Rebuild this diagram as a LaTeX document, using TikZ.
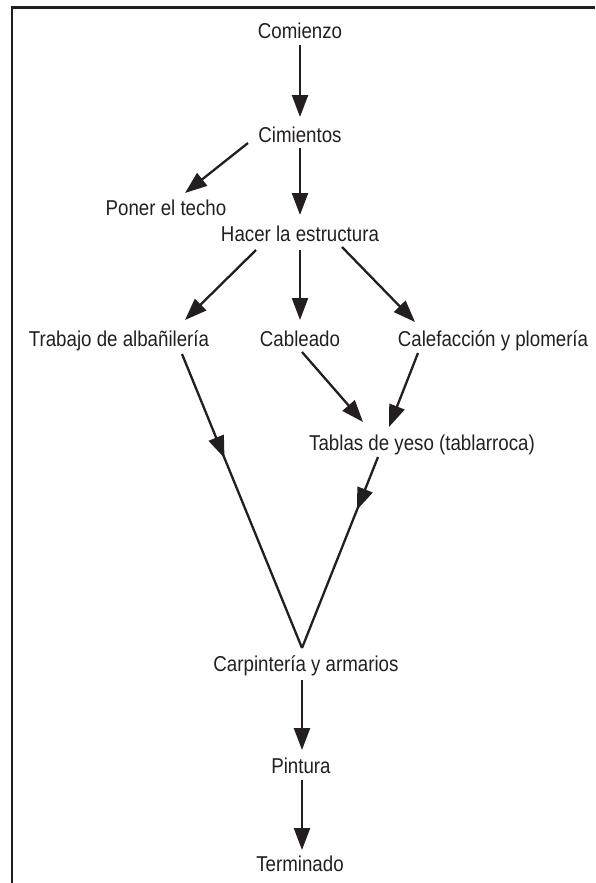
\documentclass[tikz,border=0pt]{standalone}
\usepackage{fontspec}
\setmainfont[FakeStretch=0.87]{Liberation Sans}
\usetikzlibrary{arrows.meta, decorations.markings}
\definecolor{ink}{RGB}{35, 31, 32}

\begin{document}
\begin{tikzpicture}[
  x=1pt, y=1pt,
  task/.style={anchor=base, inner sep=0pt, text=ink, font=\fontsize{21.5}{25}\selectfont},
  arrow/.style={-{Triangle[length=22pt, width=16pt]}, line width=2.3pt, ink},
  midarrow/.style={line width=2.3pt, ink, postaction={decorate},
    decoration={markings, mark=at position #1 with {\arrow{Triangle[length=22pt, width=16pt]}}}}
]
  \useasboundingbox (0, 0) rectangle (595, -883);
  \draw[line width=2.4pt, ink] (12, -883) -- (12, -7.5) -- (595, -7.5);

  \node[task] (start) at (300, -39) {Comienzo};
  \node[task] (found) at (300, -142) {Cimientos};
  \node[task] (roof) at (166, -215) {Poner el techo};
  \node[task] (frame) at (300, -241) {Hacer la estructura};
  \node[task] (mason) at (119, -346) {Trabajo de albañilería};
  \node[task] (wire) at (300, -346) {Cableado};
  \node[task] (heat) at (493, -346) {Calefacción y plomería};
  \node[task] (drywall) at (422, -450) {Tablas de yeso (tablarroca)};
  \node[task] (carp) at (306, -671) {Carpintería y armarios};
  \node[task] (paint) at (301, -773) {Pintura};
  \node[task] (done) at (300, -871) {Terminado};

  \draw[arrow] ([shift={(0,-6)}]start.base) -- ([shift={(0,25)}]found.base);
  \draw[arrow] ([shift={(0,-6)}]found.base) -- ([shift={(0,26)}]frame.base);
  \draw[arrow] ([shift={(-52,-1)}]found.base) -- ([shift={(19,22)}]roof.base);

  \draw[arrow] ([shift={(-44,-9)}]frame.base) -- ([shift={(66,26)}]mason.base);
  \draw[arrow] ([shift={(0,-9)}]frame.base) -- ([shift={(0,26)}]wire.base);
  \draw[arrow] ([shift={(42,-6)}]frame.base) -- ([shift={(-78,24)}]heat.base);

  \draw[arrow] ([shift={(2,-6)}]wire.base) -- ([shift={(-59,28)}]drywall.base);
  \draw[arrow] ([shift={(-75,-7)}]heat.base) -- ([shift={(-33,23)}]drywall.base);

  \draw[midarrow=0.354] ([shift={(63,-8)}]mason.base) -- ([shift={(-4,23)}]carp.base);
  \draw[midarrow=0.277] ([shift={(-44,-7)}]drywall.base) -- ([shift={(-4,23)}]carp.base);

  \draw[arrow] ([shift={(-4,-9)}]carp.base) -- ([shift={(1,23)}]paint.base);
  \draw[arrow] ([shift={(1,-7)}]paint.base) -- ([shift={(2,21)}]done.base);
\end{tikzpicture}
\end{document}
